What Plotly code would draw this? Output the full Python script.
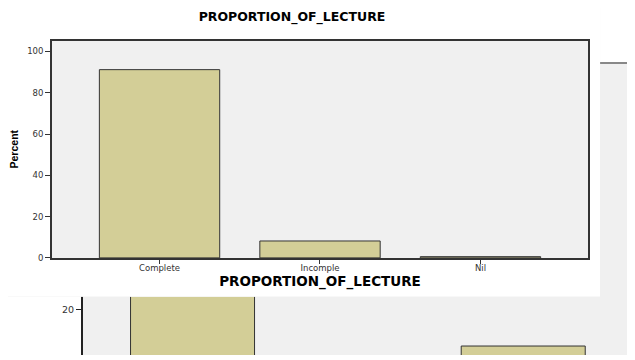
import plotly.graph_objects as go

# main chart data
categories = ["Complete", "Incomple", "Nil"]
percent = [91.2, 8.2, 0.6]

# chart partly hidden behind (only two bars visible)
back_categories = ["A", "B"]
back_percent = [92.3, 7.7]

bar_color = "#D3CE97"
edge = "#333333"
OFF_X, OFF_Y = 8, 4  # where the figure lands in the page
W, H = 635 - OFF_X, 352

def px_x(v):
    return (v - OFF_X) / W

def px_y(v):
    return 1 - (v - OFF_Y) / H

fig = go.Figure()

# background chart (x, y)
fig.add_trace(go.Bar(x=back_categories, y=back_percent, width=0.375,
                     marker=dict(color=bar_color, line=dict(color=edge, width=1)),
                     xaxis="x", yaxis="y", hoverinfo="skip"))

# white panel of the front chart (x2, y2)
fig.add_trace(go.Scatter(x=[0, 1, 1, 0, 0], y=[0, 0, 1, 1, 0], fill="toself",
                         fillcolor="white", mode="none", xaxis="x2", yaxis="y2",
                         hoverinfo="skip"))

# front chart (x3, y3)
fig.add_trace(go.Bar(x=categories, y=percent, width=0.75,
                     marker=dict(color=bar_color, line=dict(color=edge, width=1)),
                     xaxis="x3", yaxis="y3", hoverinfo="skip"))

tick_font = dict(family="DejaVu Sans, sans-serif", size=8.5, color="#333333")

# value of the background axis at the bottom of the figure (3 px per unit, 0 at y=370)
back_bottom = (370 - (OFF_Y + H)) / 3

fig.update_layout(
    width=W, height=H,
    margin=dict(l=0, r=0, t=0, b=0),
    paper_bgcolor="white",
    plot_bgcolor="#F0F0F0",
    showlegend=False,
    title=dict(text="<b>PROPORTION_OF_LECTURE</b>", x=px_x(292), xanchor="center",
               y=1 - 4 / H, yanchor="top",
               font=dict(family="DejaVu Sans, sans-serif", size=12.5, color="black")),
    xaxis=dict(domain=[px_x(83), 1], range=[-0.332, 1.332], side="top",
               showline=True, linecolor="#888888", linewidth=1.5, mirror=False,
               showticklabels=False, ticks="", showgrid=False, zeroline=False),
    yaxis=dict(domain=[0, px_y(60.5)], range=[back_bottom, 103.2], dtick=20,
               showline=True, linecolor="#222222", linewidth=1.5, mirror=True,
               ticks="outside", ticklen=5, tickcolor="#222222",
               tickfont=dict(family="DejaVu Sans, sans-serif", size=9.5, color="#333333"),
               showgrid=False, zeroline=False),
    xaxis2=dict(domain=[0, px_x(602)], range=[0, 1], visible=False),
    yaxis2=dict(domain=[px_y(297), 1], range=[0, 1], visible=False),
    xaxis3=dict(domain=[px_x(52), px_x(590)], range=[-0.671, 2.671], anchor="y3",
                showline=True, linecolor="#333333", linewidth=1.5, mirror=True,
                ticks="outside", ticklen=4, tickcolor="#333333", tickfont=tick_font,
                ticklabelstandoff=-3,
                title=dict(text="<b>PROPORTION_OF_LECTURE</b>", standoff=4,
                           font=dict(family="DejaVu Sans, sans-serif", size=13.5, color="black")),
                showgrid=False, zeroline=False),
    yaxis3=dict(domain=[px_y(257.5), px_y(37)], range=[0, 105.3], dtick=20, anchor="x3",
                showline=True, linecolor="#333333", linewidth=1.5, mirror=True,
                ticks="outside", ticklen=5, tickcolor="#333333", tickfont=tick_font,
                title=dict(text="<b>Percent</b>", standoff=6,
                           font=dict(family="Liberation Sans, Arial", size=10.5, color="black")),
                showgrid=False, zeroline=False),
)

fig.write_html("out.html")
